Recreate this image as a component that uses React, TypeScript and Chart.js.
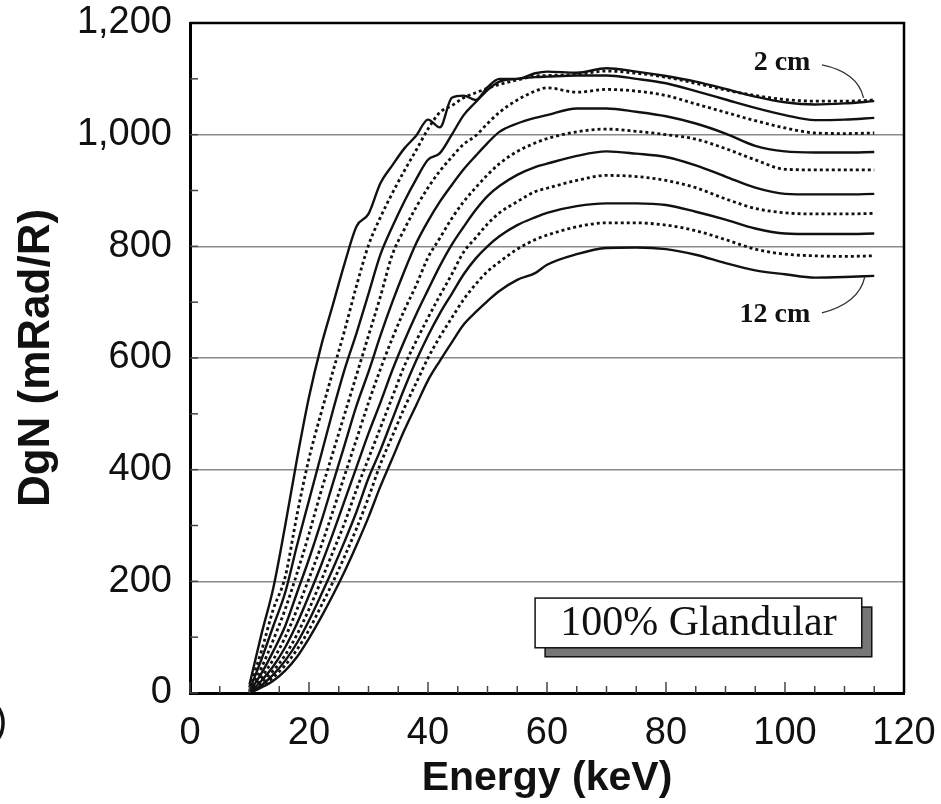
import React, { useEffect, useRef } from "react";
import { Chart, registerables } from "chart.js";

Chart.register(...registerables);

const energies = [10, 12, 14, 16, 18, 20, 22, 24, 26, 28, 30, 32, 34, 36, 38, 40, 42, 44, 46, 48, 50, 52, 55, 58, 60, 65, 70, 75, 80, 85, 90, 95, 100, 105, 110, 115];

const cm2 = [15, 105, 188, 300, 420, 530, 620, 695, 770, 836, 858, 913, 945, 975, 998, 1027, 1013, 1066, 1070, 1062, 1085, 1100, 1100, 1110, 1113, 1111, 1119, 1113, 1105, 1095, 1082, 1068, 1058, 1054, 1056, 1060];
const cm3 = [10, 75, 150, 208, 320, 420, 500, 575, 650, 730, 802, 852, 895, 935, 972, 1010, 1040, 1052, 1066, 1075, 1083, 1090, 1098, 1105, 1106, 1108, 1114, 1110, 1103, 1092, 1080, 1070, 1063, 1060, 1060, 1062];
const cm4 = [5, 60, 120, 180, 265, 345, 425, 505, 580, 645, 715, 785, 835, 880, 920, 955, 967, 1000, 1035, 1058, 1080, 1095, 1100, 1103, 1104, 1106, 1106, 1100, 1092, 1078, 1063, 1048, 1035, 1026, 1027, 1030];
const cm5 = [3, 45, 95, 150, 215, 285, 360, 430, 500, 570, 640, 710, 785, 830, 870, 905, 935, 960, 983, 998, 1020, 1040, 1062, 1078, 1084, 1076, 1081, 1078, 1070, 1055, 1040, 1025, 1012, 1003, 1002, 1003];
const cm6 = [2, 35, 75, 120, 180, 240, 305, 375, 445, 515, 575, 640, 700, 755, 805, 845, 880, 910, 938, 962, 985, 1005, 1020, 1030, 1035, 1047, 1047, 1041, 1033, 1020, 1002, 980, 970, 968, 968, 969];
const cm7 = [1, 28, 60, 100, 150, 205, 262, 325, 390, 455, 520, 580, 635, 685, 730, 780, 815, 850, 880, 905, 928, 948, 970, 985, 993, 1005, 1010, 1006, 1000, 992, 975, 955, 938, 937, 937, 937];
const cm8 = [0, 22, 48, 82, 125, 175, 228, 285, 345, 405, 465, 520, 578, 630, 678, 722, 765, 803, 835, 865, 890, 908, 928, 942, 948, 962, 970, 966, 960, 945, 925, 905, 894, 893, 893, 894];
const cm9 = [0, 18, 40, 68, 105, 150, 200, 252, 305, 365, 420, 475, 530, 585, 630, 672, 712, 750, 790, 815, 840, 860, 880, 898, 904, 918, 927, 925, 918, 905, 885, 868, 860, 858, 858, 859];
const cm10 = [0, 14, 33, 58, 90, 130, 175, 222, 272, 325, 385, 435, 490, 545, 595, 640, 680, 715, 750, 778, 800, 818, 838, 852, 860, 872, 877, 877, 874, 862, 848, 832, 823, 822, 822, 823];
const cm11 = [0, 12, 28, 50, 78, 113, 155, 198, 245, 295, 350, 410, 460, 510, 555, 600, 638, 672, 705, 732, 755, 772, 795, 812, 820, 835, 842, 842, 838, 828, 812, 795, 786, 783, 782, 783];
const cm12 = [0, 10, 22, 40, 65, 98, 135, 175, 218, 265, 315, 370, 420, 470, 515, 560, 595, 628, 660, 682, 702, 720, 740, 752, 767, 786, 797, 798, 795, 785, 770, 757, 750, 744, 745, 747];

const seriesNames = ["2 cm", "3 cm", "4 cm", "5 cm", "6 cm", "7 cm", "8 cm", "9 cm", "10 cm", "11 cm", "12 cm"];
const seriesValues = [cm2, cm3, cm4, cm5, cm6, cm7, cm8, cm9, cm10, cm11, cm12];
const seriesDotted = [false, true, false, true, false, true, false, true, false, true, false];

const xTickStep = 20;
const yTickStep = 200;
const xTitle = "Energy (keV)";
const yTitle = "DgN (mRad/R)";
const boxLabel = "100% Glandular";
const topLabel = "2 cm";
const bottomLabel = "12 cm";

const SANS = "'Liberation Sans', Arial, Helvetica, sans-serif";
const SERIF = "'Liberation Serif', 'Times New Roman', serif";

const decorPlugin = {
  id: "decor",
  afterDraw(chart: any) {
    const { ctx, chartArea: a, scales } = chart;
    const xs = scales.x;
    const ys = scales.y;
    ctx.save();
    // inner ticks
    ctx.strokeStyle = "#444";
    ctx.lineWidth = 1.5;
    for (let v = 0; v <= 1200; v += 100) {
      const py = ys.getPixelForValue(v);
      ctx.beginPath();
      ctx.moveTo(a.left, py);
      ctx.lineTo(a.left + 8, py);
      ctx.stroke();
    }
    for (let e = 0; e <= 120; e += 5) {
      const px = xs.getPixelForValue(e);
      const len = e % 20 === 0 ? 11 : 7;
      ctx.beginPath();
      ctx.moveTo(px, a.bottom);
      ctx.lineTo(px, a.bottom - len);
      ctx.stroke();
    }
    // frame top/right
    ctx.strokeStyle = "#000";
    ctx.lineWidth = 2.5;
    ctx.beginPath();
    ctx.moveTo(a.left, a.top);
    ctx.lineTo(a.right, a.top);
    ctx.lineTo(a.right, a.bottom);
    ctx.stroke();

    // labels 2 cm / 12 cm
    ctx.fillStyle = "#111";
    ctx.font = `bold 28px ${SERIF}`;
    ctx.textAlign = "center";
    ctx.textBaseline = "middle";
    ctx.fillText(topLabel, xs.getPixelForValue(99.5), ys.getPixelForValue(1128));
    ctx.fillText(bottomLabel, xs.getPixelForValue(98.3), ys.getPixelForValue(677));
    ctx.strokeStyle = "#333";
    ctx.lineWidth = 1.3;
    ctx.beginPath();
    ctx.moveTo(xs.getPixelForValue(106.2), ys.getPixelForValue(1125));
    ctx.quadraticCurveTo(xs.getPixelForValue(112.2), ys.getPixelForValue(1112), xs.getPixelForValue(113.2), ys.getPixelForValue(1066));
    ctx.stroke();
    ctx.beginPath();
    ctx.moveTo(xs.getPixelForValue(106.2), ys.getPixelForValue(681));
    ctx.quadraticCurveTo(xs.getPixelForValue(112.4), ys.getPixelForValue(698), xs.getPixelForValue(113.4), ys.getPixelForValue(745));
    ctx.stroke();

    // label box with shadow
    const bx1 = xs.getPixelForValue(58);
    const bx2 = xs.getPixelForValue(112.9);
    const by1 = ys.getPixelForValue(170);
    const by2 = ys.getPixelForValue(81);
    ctx.fillStyle = "#777";
    ctx.fillRect(bx1 + 10, by1 + 9, bx2 - bx1, by2 - by1);
    ctx.strokeStyle = "#111";
    ctx.lineWidth = 1.5;
    ctx.strokeRect(bx1 + 10, by1 + 9, bx2 - bx1, by2 - by1);
    ctx.fillStyle = "#fff";
    ctx.fillRect(bx1, by1, bx2 - bx1, by2 - by1);
    ctx.strokeRect(bx1, by1, bx2 - bx1, by2 - by1);
    ctx.fillStyle = "#111";
    ctx.font = `42px ${SERIF}`;
    ctx.fillText(boxLabel, (bx1 + bx2) / 2, (by1 + by2) / 2 + 1);

    // stray fragment at left edge
    ctx.font = `40px ${SANS}`;
    ctx.textAlign = "left";
    ctx.fillText(")", -6, ys.getPixelForValue(0) + 30);
    ctx.restore();
  },
};

export default function App() {
  const ref = useRef<HTMLCanvasElement | null>(null);
  useEffect(() => {
    if (!ref.current) return;
    const datasets = seriesValues.map((vals, i) => ({
      label: seriesNames[i],
      data: energies.map((e, j) => ({ x: e, y: vals[j] })),
      borderColor: "#111",
      borderWidth: seriesDotted[i] ? 2.8 : 2.4,
      borderDash: seriesDotted[i] ? [3, 3] : [],
      borderCapStyle: "butt" as const,
      pointRadius: 0,
      fill: false,
      cubicInterpolationMode: "monotone" as const,
    }));
    const chart = new Chart(ref.current, {
      type: "line",
      data: { datasets },
      options: {
        animation: false,
        responsive: false,
        maintainAspectRatio: false,
        layout: { padding: { left: 0, right: 37, top: 23, bottom: 0 } },
        plugins: { legend: { display: false }, tooltip: { enabled: false } },
        scales: {
          x: {
            type: "linear",
            min: 0,
            max: 120,
            afterFit: (s: any) => {
              s.height = 111;
              s.paddingLeft = 0;
              s.paddingRight = 0;
            },
            ticks: {
              stepSize: xTickStep,
              font: { family: SANS, size: 38 },
              color: "#111",
              padding: 18,
              maxRotation: 0,
              autoSkip: false,
            },
            grid: { display: true, color: "rgba(0,0,0,0)", drawTicks: false },
            border: { display: true, color: "#000", width: 3 },
            title: {
              display: true,
              text: xTitle,
              color: "#111",
              font: { family: SANS, size: 41, weight: "bold", lineHeight: 1 },
              padding: { top: 0, bottom: 5 },
            },
          },
          y: {
            type: "linear",
            min: 0,
            max: 1200,
            afterFit: (s: any) => {
              s.width = 190;
              s.paddingTop = 0;
              s.paddingBottom = 0;
            },
            ticks: {
              stepSize: yTickStep,
              font: { family: SANS, size: 38 },
              color: "#111",
              padding: 18,
              callback: (v: any) => Number(v).toLocaleString("en-US"),
            },
            grid: { color: "#8a8a8a", lineWidth: 1.5, drawTicks: false },
            border: { display: true, color: "#000", width: 3 },
            title: {
              display: true,
              text: yTitle,
              color: "#111",
              font: { family: SANS, size: 44, weight: "bold", lineHeight: 1 },
              padding: { top: 15, bottom: 0 },
            },
          },
        },
      },
      plugins: [decorPlugin],
    });
    return () => chart.destroy();
  }, []);
  return (
    <div style={{ position: "fixed", left: 0, top: 0, width: 941, height: 804, background: "#fff" }}>
      <canvas ref={ref} width={941} height={804} style={{ width: 941, height: 804, display: "block" }} />
    </div>
  );
}
